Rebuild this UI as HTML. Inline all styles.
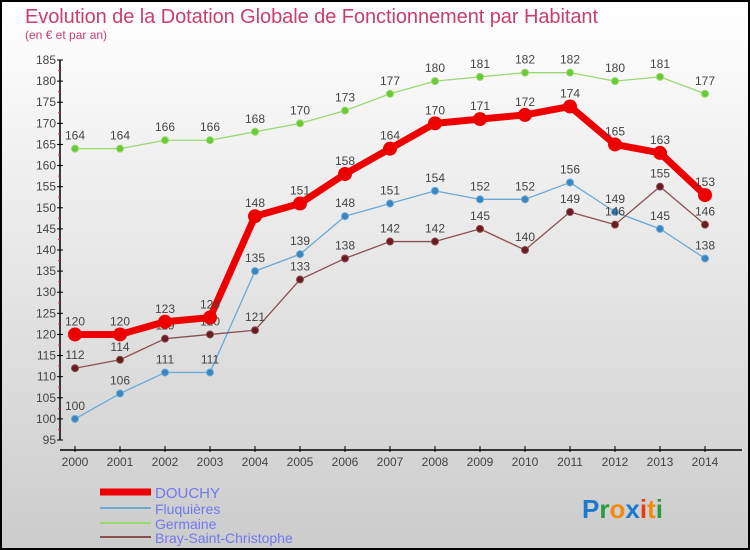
<!DOCTYPE html>
<html><head><meta charset="utf-8"><style>
body{margin:0;}
#wrap{position:relative;width:746px;height:546px;border:2px solid #000;background:linear-gradient(#fff,#ccc);overflow:hidden;font-family:"Liberation Sans",sans-serif;}
</style></head><body>
<div id="wrap">
<svg id="c" width="746" height="546"></svg>
</div>
<script>
const years=[2000,2001,2002,2003,2004,2005,2006,2007,2008,2009,2010,2011,2012,2013,2014];
const douchy=[120,120,123,124,148,151,158,164,170,171,172,174,165,163,153];
const fluquieres=[100,106,111,111,135,139,148,151,154,152,152,156,149,145,138];
const germaine=[164,164,166,166,168,170,173,177,180,181,182,182,180,181,177];
const bray=[112,114,119,120,121,133,138,142,142,145,140,149,146,155,146];
const yTicks=[95,100,105,110,115,120,125,130,135,140,145,150,155,160,165,170,175,180,185];
const NS="http://www.w3.org/2000/svg";
const svg=document.getElementById('c');
const ox=-2,oy=-2;
function X(i){return 75+i*(705-75)/14+ox;}
function Y(v){return 60+(185-v)*(440-60)/90+oy;}
function el(t,a,p){const e=document.createElementNS(NS,t);for(const k in a)e.setAttribute(k,a[k]);(p||svg).appendChild(e);return e;}
let t=el('text',{x:25+ox,y:23+oy,'font-size':20,fill:'#c8406a','textLength':573});t.textContent='Evolution de la Dotation Globale de Fonctionnement par Habitant';

t=el('text',{x:25+ox,y:39+oy,'font-size':12,fill:'#c8406a'});t.textContent='(en € et par an)';

let ax=el('line',{x1:60+ox,y1:Y(185),x2:60+ox,y2:Y(95),stroke:'#000','stroke-width':1.5});

yTicks.forEach(v=>{
 el('line',{x1:57+ox,x2:63+ox,y1:Y(v),y2:Y(v),stroke:'#000'});
 if(v<185)el('line',{x1:58+ox,x2:60+ox,y1:Y(v+2.5),y2:Y(v+2.5),stroke:'#e33'});
 const l=el('text',{x:56+ox,y:Y(v)+4,'font-size':12,fill:'#444','text-anchor':'end'});l.textContent=v;
 
});
ax=el('line',{x1:60+ox,y1:450+oy,x2:740,y2:450+oy,stroke:'#000','stroke-width':1.5});

years.forEach((y,i)=>{
 el('line',{x1:X(i),x2:X(i),y1:446+oy,y2:452+oy,stroke:'#000'});
 const l=el('text',{x:X(i),y:466+oy,'font-size':12,fill:'#444','text-anchor':'middle'});l.textContent=y;
 
});
function series(data,color,dot,w,r,name){
 const g=el('g',{});
 el('polyline',{points:data.map((v,i)=>X(i)+','+Y(v)).join(' '),fill:'none',stroke:color,'stroke-width':w,'stroke-linejoin':'round'},g);
 data.forEach((v,i)=>{
  const c=el('circle',{cx:X(i),cy:Y(v),r:r,fill:dot,stroke:color,'stroke-width':1},g);
  
  const l=el('text',{x:X(i),y:Y(v)-9,'font-size':12,fill:'#444','text-anchor':'middle'},g);l.textContent=v;
 });
}
series(germaine,'#9ad870','#6c3','1.3',3.5,'series-germaine');
series(fluquieres,'#6aaad6','#3a85c0','1.3',3.5,'series-fluquieres');
series(bray,'#8a5050','#6a1a20','1.3',3.5,'series-bray');
series(douchy,'#ee0000','#ee0000','7',6.5,'series-douchy');
const leg=[['DOUCHY','#ee0000',7,15],['Fluquières','#6aaad6',2,14],['Germaine','#9ad870',2,14],['Bray-Saint-Christophe','#8a5050',2,14]];
const ly=[492,508,523,537];
leg.forEach((d,i)=>{
 const g=el('g',{});
 el('line',{x1:100+ox,x2:151+ox,y1:ly[i]+oy,y2:ly[i]+oy,stroke:d[1],'stroke-width':d[2]},g);
 const l=el('text',{x:155+ox,y:ly[i]+6+oy,'font-size':d[3],fill:'#7078f0'},g);l.textContent=d[0];
});
const logo=el('text',{x:582+ox,y:518+oy,'font-size':26,'font-weight':'bold'});

[['P','#1a7ad0'],['r','#2a9a40'],['o','#f08a10'],['x','#1a7ad0'],['i','#e83a10'],['t','#f08a10'],['i','#2a9a40']].forEach(p=>{const s=el('tspan',{fill:p[1]},logo);s.textContent=p[0];});
</script>
</body></html>
